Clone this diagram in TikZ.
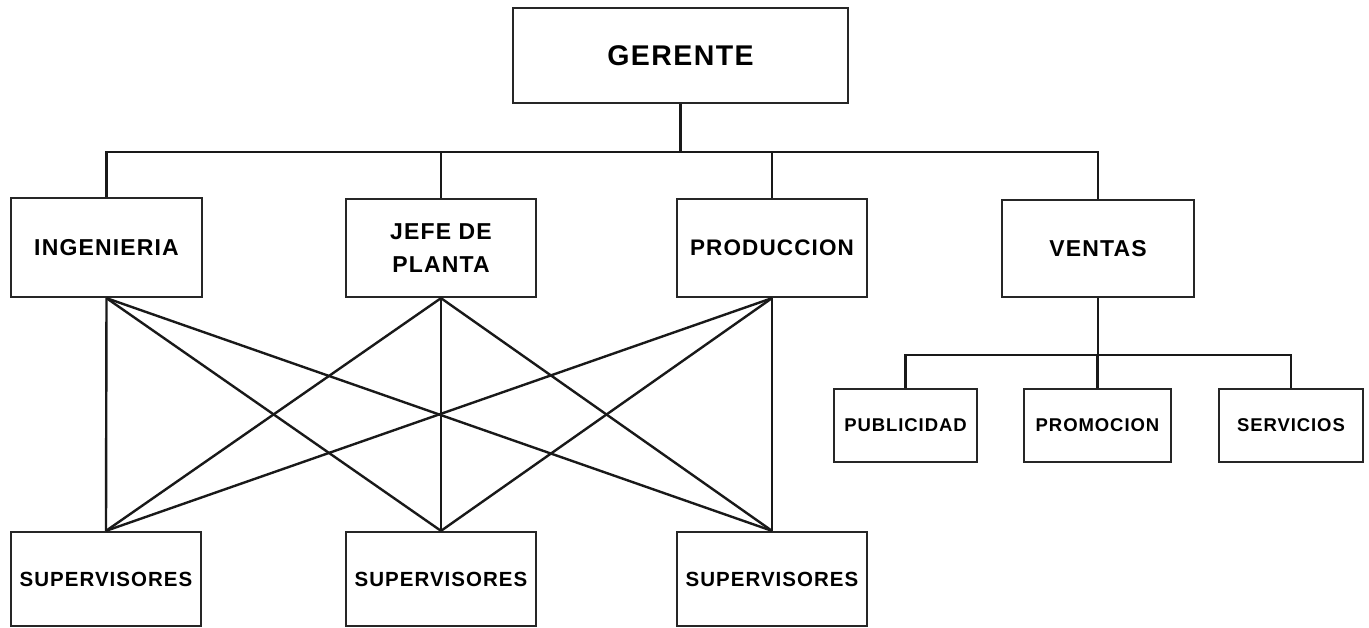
\documentclass[tikz,border=0pt]{standalone}
\usepackage{fontspec}
\setmainfont{Liberation Sans}[LetterSpace=5]
\begin{document}
\begin{tikzpicture}[x=1pt,y=-1pt,
  box/.style={draw=black!85, line width=2.3pt, fill=white, inner sep=0pt, align=center, font=\bfseries},
  conn/.style={draw=black!90, line width=2.6pt}]
\useasboundingbox (0,0) rectangle (1369,628);
\node[box, minimum width=335pt, minimum height=95pt, font=\bfseries\fontsize{28.5}{32}\selectfont] (ger) at (680.5,55.5) {GERENTE};
\node[box, minimum width=191pt, minimum height=99pt, font=\bfseries\fontsize{23}{33}\selectfont] (ing) at (106.5,247.5) {INGENIERIA};
\node[box, minimum width=190pt, minimum height=98pt, font=\bfseries\fontsize{23}{33}\selectfont] (jef) at (441,248) {JEFE DE\\PLANTA};
\node[box, minimum width=190pt, minimum height=98pt, font=\bfseries\fontsize{22.5}{33}\selectfont] (pro) at (772,248) {PRODUCCION};
\node[box, minimum width=192pt, minimum height=97pt, font=\bfseries\fontsize{23}{33}\selectfont] (ven) at (1098,248.5) {VENTAS};
\node[box, minimum width=190pt, minimum height=94pt, font=\bfseries\fontsize{20.5}{24}\selectfont] (s1) at (106,579) {SUPERVISORES};
\node[box, minimum width=190pt, minimum height=94pt, font=\bfseries\fontsize{20.5}{24}\selectfont] (s2) at (441,579) {SUPERVISORES};
\node[box, minimum width=190pt, minimum height=94pt, font=\bfseries\fontsize{20.5}{24}\selectfont] (s3) at (772,579) {SUPERVISORES};
\node[box, minimum width=143pt, minimum height=73pt, font=\bfseries\fontsize{18.5}{20}\selectfont] (pub) at (905.5,425.5) {PUBLICIDAD};
\node[box, minimum width=147pt, minimum height=73pt, font=\bfseries\fontsize{18.5}{20}\selectfont] (prm) at (1097.5,425.5) {PROMOCION};
\node[box, minimum width=144pt, minimum height=73pt, font=\bfseries\fontsize{18.5}{20}\selectfont] (ser) at (1291,425.5) {SERVICIOS};
\coordinate (bus) at (0,152);
\coordinate (sbus) at (0,355);
% top bus
\draw[conn] (ing.north) -- (ing.north |- bus) -- (ven.north |- bus) -- (ven.north);
\draw[conn] (ger.south) -- (ger.south |- bus);
\draw[conn] (jef.north) -- (jef.north |- bus);
\draw[conn] (pro.north) -- (pro.north |- bus);
% ventas bus
\draw[conn] (ven.south) -- (ven.south |- sbus);
\draw[conn] (pub.north) -- (pub.north |- sbus) -- (ser.north |- sbus) -- (ser.north);
\draw[conn] (prm.north) -- (prm.north |- sbus);
% cross connections
\foreach \a in {ing,jef,pro}{
  \foreach \b in {s1,s2,s3}{
    \draw[conn, line width=2.4pt] (\a.south) -- (\b.north);
  }
}
\end{tikzpicture}
\end{document}
